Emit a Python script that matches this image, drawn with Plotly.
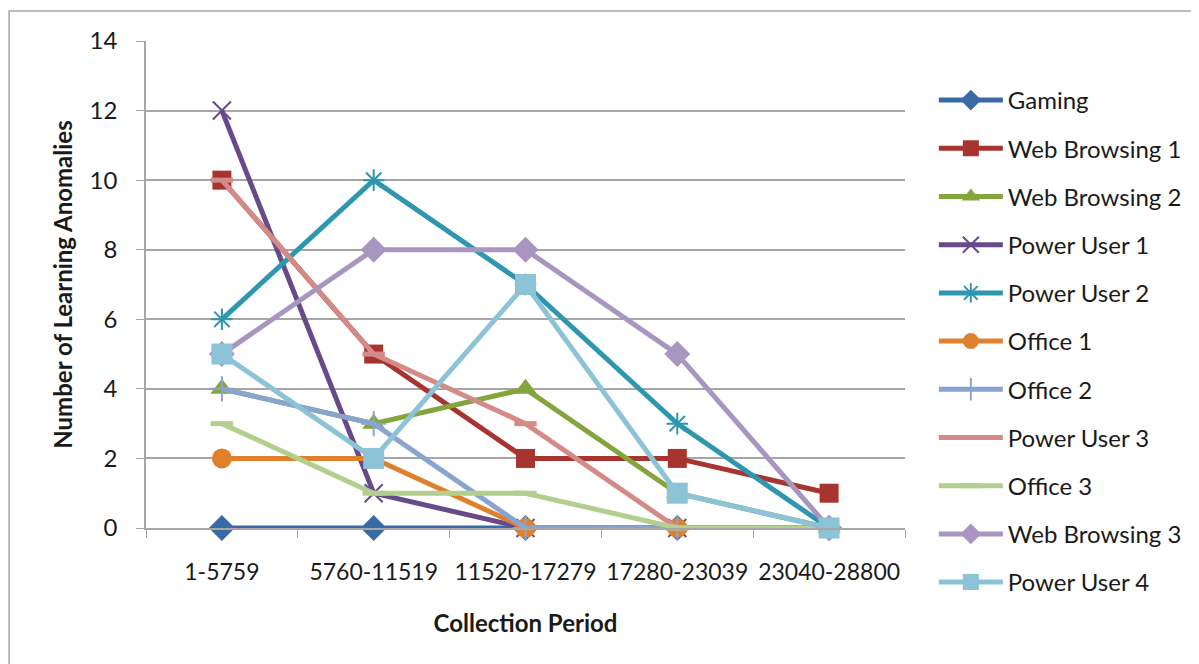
import plotly.graph_objects as go

categories = ["1-5759", "5760-11519", "11520-17279", "17280-23039", "23040-28800"]

gaming = [0, 0, 0, 0, 0]
web_browsing_1 = [10, 5, 2, 2, 1]
web_browsing_2 = [4, 3, 4, 1, 0]
power_user_1 = [12, 1, 0, 0, 0]
power_user_2 = [6, 10, 7, 3, 0]
office_1 = [2, 2, 0, 0, 0]
office_2 = [4, 3, 0, 0, 0]
power_user_3 = [10, 5, 3, 0, 0]
office_3 = [3, 1, 1, 0, 0]
web_browsing_3 = [5, 8, 8, 5, 0]
power_user_4 = [5, 2, 7, 1, 0]

y_ticks = [0, 2, 4, 6, 8, 10, 12, 14]

series = [
    ("Gaming", gaming, "#3A6AA6", "diamond", 20, 0),
    ("Web Browsing 1", web_browsing_1, "#A83430", "square", 19, 0),
    ("Web Browsing 2", web_browsing_2, "#84A43C", "triangle-up", 20, 0),
    ("Power User 1", power_user_1, "#664A8A", "x-thin-open", 18, 2),
    ("Power User 2", power_user_2, "#2E97AF", "asterisk-open", 18, 2),
    ("Office 1", office_1, "#E0802C", "circle", 20, 0),
    ("Office 2", office_2, "#8AA4D0", "cross-thin-open", 18, 2),
    ("Power User 3", power_user_3, "#D48B88", "line-ew-open", 16, 5),
    ("Office 3", office_3, "#B3CF8F", "line-ew-open", 16, 5),
    ("Web Browsing 3", web_browsing_3, "#A896C0", "diamond", 20, 0),
    ("Power User 4", power_user_4, "#8CC3D7", "square", 21, 0),
]

FONT = "Lato, Open Sans, sans-serif"

fig = go.Figure()
for i, (name, vals, color, sym, size, lw) in enumerate(series):
    marker = dict(symbol=sym, size=size, color=color)
    if lw:
        marker["line"] = dict(color=color, width=lw)
    fig.add_trace(go.Scatter(
        x=categories, y=vals, name=name, mode="lines+markers",
        line=dict(color=color, width=5),
        marker=marker, legendgroup=f"g{i}", cliponaxis=False,
    ))

# page has an 8px body margin, so the figure is 8px smaller and offset
fig.update_layout(
    width=1191, height=656,
    paper_bgcolor="white", plot_bgcolor="white",
    margin=dict(l=138, r=292, t=33, b=136),
    font=dict(family=FONT, size=24, color="#1a1a1a"),
    showlegend=True,
    legend=dict(
        x=1.038, y=0.924, xanchor="left", yanchor="top",
        font=dict(size=24, family=FONT),
        tracegroupgap=14, itemwidth=64, maxheight=700,
        bgcolor="rgba(0,0,0,0)",
    ),
    xaxis=dict(
        type="category", range=[-0.5, 4.5],
        showgrid=False, showline=True, linecolor="#A6A6A6", linewidth=1.5,
        ticks="outside", tickson="boundaries", ticklen=8, tickcolor="#A6A6A6",
        tickfont=dict(size=23), ticklabelstandoff=23,
        title=dict(text="<b>Collection Period</b>", font=dict(size=24), standoff=31),
    ),
    yaxis=dict(
        range=[0, 14], tickvals=y_ticks,
        showgrid=True, gridcolor="#A6A6A6", gridwidth=1.5,
        showline=True, linecolor="#A6A6A6", linewidth=1.5,
        ticks="outside", ticklen=8, tickcolor="#A6A6A6",
        tickfont=dict(size=24), ticklabelstandoff=14, zeroline=False,
        title=dict(text="<b>Number of Learning Anomalies</b>", font=dict(size=24), standoff=10),
    ),
    shapes=[dict(
        type="rect", xref="paper", yref="paper",
        x0=(0.75 - 138) / 761, x1=(1215 - 138) / 761,
        y0=(520 - 690) / 487, y1=(520 - 3) / 487,
        line=dict(color="#A6A6A6", width=1.5), fillcolor="rgba(0,0,0,0)", layer="below",
    )],
)

fig.write_html("out.html")
